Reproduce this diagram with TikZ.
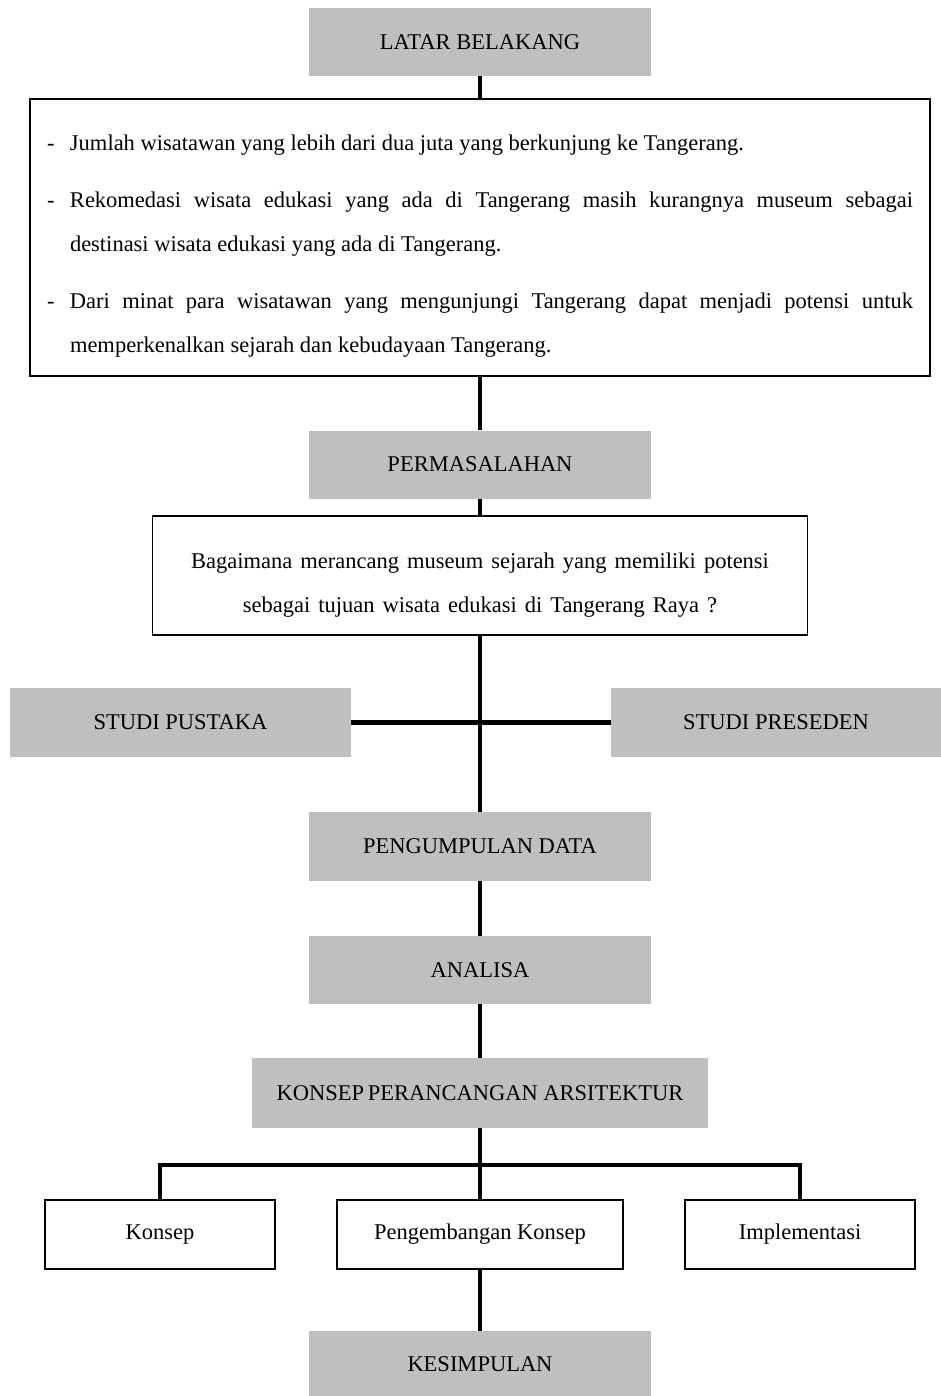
\documentclass[tikz,border=0pt]{standalone}
\usepackage{fontspec}
\setmainfont{Liberation Serif}
\newcommand{\butir}[1]{\par\hangindent=23pt\hangafter=1\noindent\makebox[23pt][l]{-}#1\par}
\begin{document}
\begin{tikzpicture}[x=1pt,y=-1pt,
        graybox/.style={fill=black!25, minimum width=342pt, minimum height=68pt, inner sep=0pt},
        whitebox/.style={draw, line width=1.2pt, fill=white, inner sep=0pt},
        link/.style={line width=3.5pt},
        every node/.style={font=\fontsize{22.5}{44}\selectfont}]
    \useasboundingbox (0,0) rectangle (941,1396);
    % kotak utama
    \node[graybox] (latar) at (480,42) {LATAR BELAKANG};
    \node[whitebox, minimum width=900pt] (alasan) at (480,237.5)
        {\parbox[c][277pt][t]{866pt}{\setlength{\parskip}{13pt}\vspace*{23pt}%
        \butir{Jumlah wisatawan yang lebih dari dua juta yang berkunjung ke Tangerang.}%
        \butir{Rekomedasi wisata edukasi yang ada di Tangerang masih kurangnya museum sebagai\linebreak destinasi wisata edukasi yang ada di Tangerang.}%
        \butir{Dari minat para wisatawan yang mengunjungi Tangerang dapat menjadi potensi untuk\linebreak memperkenalkan sejarah dan kebudayaan Tangerang.}}};
    \node[graybox] (masalah) at (480,464.5) {PERMASALAHAN};
    \node[whitebox, minimum width=655pt] (tanya) at (480,575.5)
        {\parbox[c][119pt][t]{630pt}{\vspace*{37pt}\centering\spaceskip=8pt plus 2pt
        Bagaimana merancang museum sejarah yang memiliki potensi\\sebagai tujuan wisata edukasi di Tangerang Raya ?}};
    \node[graybox, minimum width=341pt, minimum height=69pt] (pustaka) at (180.5,722.5) {STUDI PUSTAKA};
    \node[graybox, minimum width=330pt, minimum height=69pt] (preseden) at (776,722.5) {STUDI PRESEDEN};
    \node[graybox, minimum height=69pt] (data) at (480,846.5) {PENGUMPULAN DATA};
    \node[graybox] (analisa) at (480,970) {ANALISA};
    \node[graybox, minimum width=456pt, minimum height=70pt] (konsepars) at (480,1093) {KONSEP\,PERANCANGAN ARSITEKTUR};
    % cabang konsep
    \node[whitebox, minimum width=230pt, minimum height=69pt] (konsep) at (160,1234.5) {Konsep};
    \node[whitebox, minimum width=286pt, minimum height=69pt] (kembang) at (480,1234.5) {Pengembangan Konsep};
    \node[whitebox, minimum width=230pt, minimum height=69pt] (implementasi) at (800,1234.5) {Implementasi};
    \node[graybox, minimum height=66pt] (simpul) at (480,1364) {KESIMPULAN};
    \coordinate (cabang) at (480,1165);
    % garis penghubung
    \draw[link] (latar.south) -- (alasan.north);
    \draw[link] (alasan.south) -- (masalah.north);
    \draw[link] (masalah.south) -- (tanya.north);
    \draw[link] (tanya.south) -- (data.north);
    \draw[line width=4.5pt] (pustaka.east) -- (preseden.west);
    \draw[link] (data.south) -- (analisa.north);
    \draw[link] (analisa.south) -- (konsepars.north);
    \draw[link] (konsepars.south) -- (kembang.north);
    \draw[line width=4.5pt] (konsep.north) |- (cabang) -| (implementasi.north);
    \draw[link] (kembang.south) -- (simpul.north);
\end{tikzpicture}
\end{document}
